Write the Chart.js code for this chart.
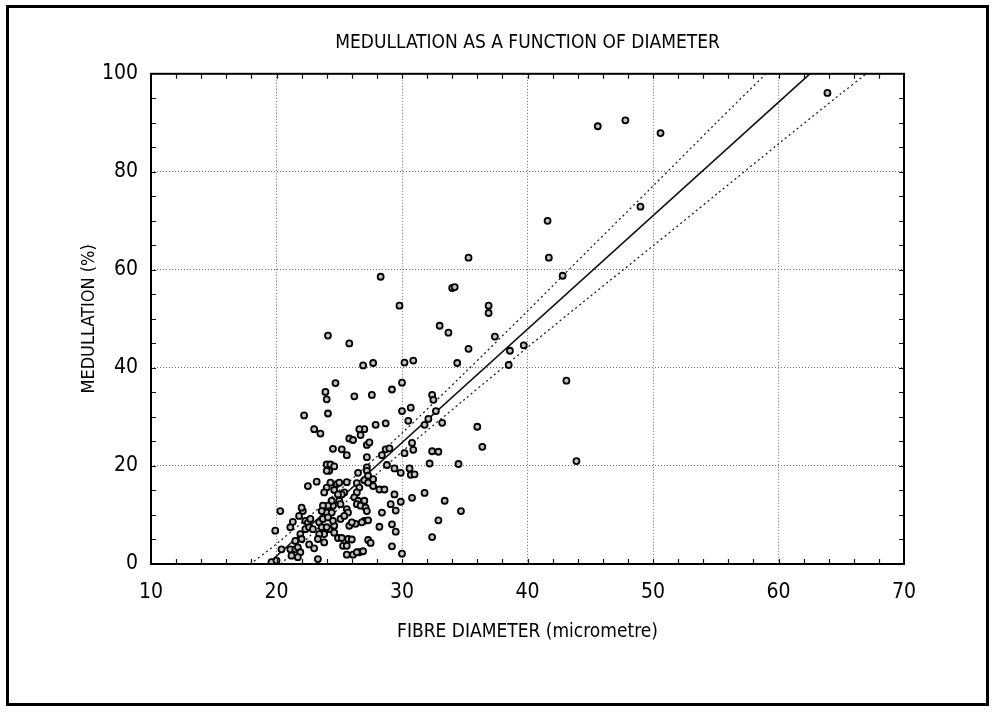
<!DOCTYPE html>
<html>
<head>
<meta charset="utf-8">
<title>Medullation as a function of diameter</title>
<script src="https://cdn.jsdelivr.net/npm/chart.js@4.4.1/dist/chart.umd.min.js"></script>
<style>
  html, body { margin: 0; padding: 0; background: #fff; }
  #wrap { position: relative; width: 995px; height: 713px; }
</style>
</head>
<body>
<div id="wrap"><canvas id="chart" width="995" height="713"></canvas></div>
<script>
// fibre diameter (micrometre) of each measured fibre
const diameter = [
  63.9, 45.6, 47.8, 50.6, 49.0, 41.6, 41.7, 42.8, 43.1, 43.9,
  35.3, 28.3, 29.8, 34.0, 34.2, 36.9, 36.9, 33.0, 33.7, 37.4,
  35.3, 38.6, 39.7, 38.5, 34.4, 30.2, 30.9, 26.9, 27.7, 24.1,
  25.8, 24.7, 30.0, 29.2, 27.6, 26.2, 23.9, 24.0, 24.1, 22.2,
  23.0, 23.5, 32.4, 32.5, 30.0, 30.7, 32.7, 30.5, 32.1, 33.2,
  31.8, 36.0, 36.4, 34.5, 32.4, 32.9, 32.2, 30.9, 30.2, 30.8,
  30.6, 30.7, 31.0, 29.9, 29.4, 28.8, 27.2, 28.7, 29.0, 27.9,
  28.7, 27.0, 26.7, 27.2, 27.4, 26.6, 25.8, 26.1, 24.5, 25.2,
  25.6, 28.4, 31.8, 30.8, 33.4, 32.9, 32.4, 34.7, 30.0, 29.2,
  29.5, 29.2, 28.4, 29.1, 29.5, 29.9, 29.4, 28.2, 28.6, 27.3,
  27.5, 26.6, 26.9, 27.0, 27.3, 26.8, 26.3, 28.2, 24.0, 24.3,
  24.2, 24.0, 24.6, 22.5, 23.2, 24.0, 23.8, 24.3, 24.8, 25.0,
  25.6, 24.6, 25.4, 26.4, 26.6, 26.4, 27.0, 27.3, 27.7, 27.7,
  27.2, 27.2, 27.3, 26.5, 25.2, 25.0, 25.1, 26.2, 26.5, 26.4,
  26.7, 27.0, 27.1, 27.2, 25.1, 24.2, 24.6, 24.6, 23.8, 23.4,
  23.3, 23.8, 24.9, 25.2, 25.7, 26.0, 25.3, 25.6, 25.6, 26.1,
  26.4, 23.3, 21.1, 21.5, 21.7, 21.9, 21.2, 21.7, 20.4, 19.9,
  20.3, 21.1, 21.3, 21.8, 22.1, 22.0, 22.3, 22.5, 22.7, 22.3,
  22.6, 22.9, 21.9, 22.0, 21.5, 23.4, 23.7, 23.6, 24.0, 24.0,
  24.4, 24.1, 24.5, 24.4, 24.1, 24.9, 23.7, 23.6, 25.6, 25.7,
  25.4, 24.5, 25.8, 26.0, 19.6, 20.0, 22.6, 23.0
];

// medullation (%) for the same fibres
const medullation = [
  96.1, 89.3, 90.5, 87.9, 72.9, 70.0, 62.5, 58.8, 37.4, 21.0,
  62.5, 58.6, 52.7, 56.3, 56.5, 52.7, 51.2, 48.6, 47.2, 46.4,
  43.9, 43.5, 44.6, 40.6, 41.0, 41.1, 41.5, 40.5, 41.0, 46.6,
  45.0, 36.9, 37.0, 35.6, 34.5, 34.2, 35.1, 33.6, 30.7, 30.3,
  27.5, 26.6, 34.5, 33.5, 31.2, 31.9, 31.2, 29.2, 29.6, 28.8,
  28.4, 28.0, 23.9, 20.4, 23.0, 22.9, 20.5, 23.3, 22.6, 24.7,
  19.5, 18.2, 18.3, 18.6, 19.5, 20.2, 21.8, 23.4, 23.6, 28.4,
  28.7, 27.5, 26.3, 24.3, 24.8, 27.5, 25.6, 25.3, 23.5, 23.4,
  22.2, 22.2, 14.5, 13.5, 12.9, 8.9, 5.5, 10.8, 2.1, 3.6,
  6.6, 8.1, 10.5, 12.2, 10.9, 12.7, 14.2, 15.2, 15.2, 4.9,
  4.3, 2.4, 2.6, 8.8, 8.9, 8.5, 8.2, 7.6, 20.3, 20.3,
  19.0, 19.0, 19.9, 15.9, 16.8, 15.6, 14.6, 16.6, 16.3, 16.6,
  16.7, 15.1, 14.6, 16.5, 15.6, 14.6, 17.1, 16.6, 17.3, 15.9,
  19.7, 19.0, 18.0, 18.6, 14.2, 12.9, 12.2, 13.6, 12.9, 12.2,
  11.9, 12.9, 11.5, 10.8, 9.2, 7.1, 7.8, 6.4, 6.1, 6.1,
  5.1, 4.4, 5.3, 5.3, 5.1, 5.0, 3.7, 3.7, 1.9, 1.9,
  2.4, 1.0, 3.0, 3.0, 3.4, 2.4, 1.7, 1.4, 3.0, 6.8,
  10.8, 7.5, 8.6, 9.8, 10.8, 11.5, 8.8, 8.4, 9.2, 7.1,
  7.5, 7.1, 6.1, 5.1, 4.7, 8.5, 9.2, 7.5, 7.5, 10.5,
  10.5, 9.5, 11.9, 12.9, 11.9, 14.2, 11.9, 10.8, 11.2, 10.5,
  9.8, 8.8, 7.8, 8.5, 0.4, 0.7, 4.0, 3.2
];

// fitted regression line (end points)
const fitX = [19.3, 62.5];
const fitY = [0, 100];

// dotted confidence limits
const upperX = [17.9, 20, 25, 30, 35, 40, 45, 50, 55, 59.0];
const upperY = [0, 4.1, 15.0, 26.7, 39.0, 51.6, 64.4, 77.1, 89.9, 100];
const lowerX = [20.35, 25, 30, 35, 40, 45, 50, 55, 60, 65, 67.0];
const lowerY = [0, 11.4, 22.9, 33.6, 44.2, 54.6, 64.9, 75.3, 85.7, 96.0, 100];

const xRange = [10, 70];
const yRange = [0, 100];

const FONT = "'Liberation Sans Narrow', 'Arial Narrow', 'DejaVu Sans Condensed', 'Liberation Sans', sans-serif";

function toPoints(xs, ys) {
    return xs.map((x, i) => ({ x: x, y: ys[i] }));
}

// draws the plot box, inward minor ticks and the page frame
const framePlugin = {
    id: "frame",
    beforeDraw(chart) {
        const ctx = chart.ctx;
        ctx.save();
        ctx.fillStyle = "#fff";
        ctx.fillRect(0, 0, chart.width, chart.height);
        ctx.restore();
    },
    afterDraw(chart) {
        const ctx = chart.ctx;
        const a = chart.chartArea;
        const xs = chart.scales.x;
        const ys = chart.scales.y;
        ctx.save();
        ctx.strokeStyle = "#111";
        ctx.lineWidth = 1.2;
        ctx.beginPath();
        for (let v = xRange[0] + 2; v < xRange[1]; v += 2) {
            const px = Math.round(xs.getPixelForValue(v)) + 0.5;
            ctx.moveTo(px, a.bottom);
            ctx.lineTo(px, a.bottom - 5);
            ctx.moveTo(px, a.top);
            ctx.lineTo(px, a.top + 5);
        }
        for (let v = yRange[0] + 5; v < yRange[1]; v += 5) {
            const py = Math.round(ys.getPixelForValue(v)) + 0.5;
            ctx.moveTo(a.left, py);
            ctx.lineTo(a.left + 5, py);
            ctx.moveTo(a.right, py);
            ctx.lineTo(a.right - 5, py);
        }
        ctx.stroke();

        ctx.lineWidth = 2;
        ctx.strokeStyle = "#000";
        ctx.strokeRect(a.left, a.top, a.right - a.left, a.bottom - a.top);

        ctx.lineWidth = 3;
        ctx.strokeRect(7.5, 6.5, 980, 698);
        ctx.restore();
    }
};

const ctx = document.getElementById("chart").getContext("2d");

new Chart(ctx, {
    type: "scatter",
    data: {
        datasets: [
            {
                label: "Fibres",
                data: toPoints(diameter, medullation),
                pointRadius: 3,
                pointHoverRadius: 3,
                borderWidth: 1.8,
                borderColor: "#000",
                backgroundColor: "#c4c4c4"
            },
            {
                label: "Regression",
                type: "line",
                data: toPoints(fitX, fitY),
                borderColor: "#111",
                borderWidth: 1.6,
                pointRadius: 0,
                fill: false,
                tension: 0
            },
            {
                label: "Upper limit",
                type: "line",
                data: toPoints(upperX, upperY),
                borderColor: "#222",
                borderWidth: 1.3,
                borderDash: [2, 3],
                pointRadius: 0,
                fill: false,
                tension: 0.3
            },
            {
                label: "Lower limit",
                type: "line",
                data: toPoints(lowerX, lowerY),
                borderColor: "#222",
                borderWidth: 1.3,
                borderDash: [2, 3],
                pointRadius: 0,
                fill: false,
                tension: 0.3
            }
        ]
    },
    options: {
        responsive: false,
        animation: false,
        devicePixelRatio: 1,
        layout: { padding: { left: 0, right: 91, top: 0, bottom: 0 } },
        plugins: {
            legend: { display: false },
            tooltip: { enabled: false },
            title: {
                display: true,
                fullSize: false,
                text: "MEDULLATION AS A FUNCTION OF DIAMETER",
                color: "#000",
                font: { family: FONT, size: 19, weight: "normal" },
                padding: { top: 32, bottom: 19 }
            }
        },
        scales: {
            x: {
                type: "linear",
                min: xRange[0],
                max: xRange[1],
                ticks: {
                    stepSize: 10,
                    color: "#000",
                    padding: 16,
                    font: { family: FONT, size: 21 }
                },
                grid: { color: "#6a6a6a", lineWidth: 1, drawTicks: false },
                border: { display: false, dash: [1, 2] },
                title: {
                    display: true,
                    text: "FIBRE DIAMETER (micrometre)",
                    color: "#000",
                    font: { family: FONT, size: 19 },
                    padding: { top: 0, bottom: 70 }
                },
                afterFit: scale => { scale.height = 149; }
            },
            y: {
                type: "linear",
                min: yRange[0],
                max: yRange[1],
                ticks: {
                    stepSize: 20,
                    color: "#000",
                    padding: 13,
                    font: { family: FONT, size: 21 }
                },
                grid: { color: "#6a6a6a", lineWidth: 1, drawTicks: false },
                border: { display: false, dash: [1, 2] },
                title: {
                    display: true,
                    text: "MEDULLATION (%)",
                    color: "#000",
                    font: { family: FONT, size: 18 },
                    padding: { top: 79, bottom: 0 }
                },
                afterFit: scale => { scale.width = 151; }
            }
        }
    },
    plugins: [framePlugin]
});
</script>
</body>
</html>
